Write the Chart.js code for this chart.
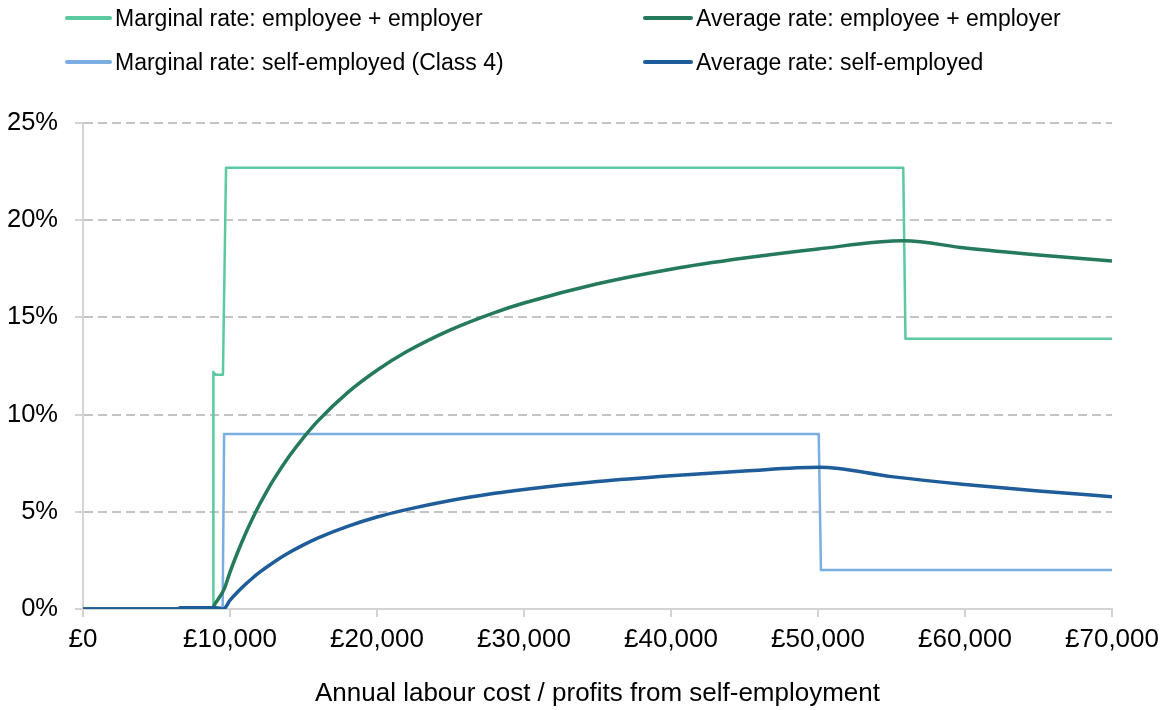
<!DOCTYPE html>
<html>
<head>
<meta charset="utf-8">
<script src="https://cdn.jsdelivr.net/npm/chart.js@4/dist/chart.umd.min.js"></script>
<style>
  body { margin: 0; background: #fff; }
  #wrap { position: relative; width: 1169px; height: 710px; }
  #legenda { position: absolute; left: 0; top: 0; width: 1169px; height: 90px; font-family: "Liberation Sans", Arial, sans-serif; font-size: 23px; color: #000; }
  .item { position: absolute; display: flex; align-items: center; height: 30px; white-space: nowrap; }
  .item span.linha { display: inline-block; height: 4px; border-radius: 2px; margin-right: 3px; }
</style>
</head>
<body>
<div id="wrap">
  <canvas id="grafico" width="1169" height="710"></canvas>
  <div id="legenda"></div>
</div>
<script>
// Dados (x = £ por ano, y = %)
const margEmpX = [0, 8850, 8870, 9000, 9520, 9730, 55800, 55950, 70000];
const margEmpY = [0, 0, 12.2, 12.05, 12.05, 22.7, 22.7, 13.9, 13.9];

const margSeX = [0, 6500, 6600, 9500, 9600, 50050, 50200, 70000];
const margSeY = [0, 0, 0.08, 0.08, 9.0, 9.0, 2.0, 2.0];

const avgEmpX = [0, 8780, 9000, 9300, 9600, 10000, 10500, 11000, 11500, 12000, 12500, 13000, 14000, 15000, 16000, 18000, 20000, 22000, 25000, 28000, 30000, 35000, 40000, 45000, 50000, 55850, 60000, 65000, 70000];
const avgEmpY = [0, 0, 0.29, 0.62, 1.02, 1.9, 2.88, 3.78, 4.6, 5.36, 6.05, 6.69, 7.83, 8.82, 9.69, 11.13, 12.28, 13.23, 14.36, 15.25, 15.74, 16.73, 17.48, 18.05, 18.52, 18.94, 18.57, 18.21, 17.9];

const avgSeX = [0, 6500, 6600, 9000, 9550, 10000, 10500, 11000, 11500, 12000, 13000, 14000, 15000, 16000, 18000, 20000, 22000, 25000, 28000, 30000, 35000, 40000, 45000, 50100, 55000, 60000, 65000, 70000];
const avgSeY = [0, 0, 0.06, 0.06, 0, 0.45, 0.86, 1.23, 1.57, 1.88, 2.42, 2.89, 3.3, 3.66, 4.25, 4.73, 5.11, 5.58, 5.95, 6.15, 6.56, 6.86, 7.1, 7.29, 6.81, 6.41, 6.07, 5.78];

const yTicks = [0, 5, 10, 15, 20, 25];
const xTicks = [0, 10000, 20000, 30000, 40000, 50000, 60000, 70000];

const titulos = [
    'Marginal rate: employee + employer',
    'Average rate: employee + employer',
    'Marginal rate: self-employed (Class 4)',
    'Average rate: self-employed'
];

// junta x e y em pontos
function pontos(xs, ys) {
    return xs.map((x, i) => ({ x: x, y: ys[i] }));
}

const fonte = '"Liberation Sans", Arial, sans-serif';
const cinzaEixo = '#d3d3d3';

const datasets = [
    { label: titulos[0], data: pontos(margEmpX, margEmpY), borderColor: '#5cc9a0', borderWidth: 2.5, tension: 0, order: 3 },
    { label: titulos[1], data: pontos(avgEmpX, avgEmpY), borderColor: '#247a5a', borderWidth: 3.5, cubicInterpolationMode: 'monotone', order: 1 },
    { label: titulos[2], data: pontos(margSeX, margSeY), borderColor: '#7aaee3', borderWidth: 2.5, tension: 0, order: 2 },
    { label: titulos[3], data: pontos(avgSeX, avgSeY), borderColor: '#1f5c9a', borderWidth: 3.5, cubicInterpolationMode: 'monotone', order: 0 }
];
datasets.forEach(d => { d.pointRadius = 0; d.fill = false; d.borderJoinStyle = 'round'; });

const chartOptions = {
    responsive: false,
    animation: false,
    devicePixelRatio: 1,
    layout: { padding: { top: 123, right: 57, bottom: 0, left: 0 } },
    plugins: {
        legend: { display: false },
        tooltip: { enabled: false }
    },
    scales: {
        x: {
            type: 'linear',
            min: 0,
            max: 70000,
            afterBuildTicks: (scale) => { scale.ticks = xTicks.map(v => ({ value: v })); },
            afterFit: (scale) => { scale.height = 101; },
            ticks: {
                color: '#000',
                font: { family: fonte, size: 26 },
                padding: 7,
                maxRotation: 0,
                callback: (v) => '£' + Number(v).toLocaleString('en-GB')
            },
            grid: { drawOnChartArea: false, color: cinzaEixo, tickLength: 8, lineWidth: 2 },
            border: { display: true, color: cinzaEixo, width: 2 },
            title: {
                display: true,
                text: 'Annual labour cost / profits from self-employment',
                color: '#000',
                font: { family: fonte, size: 26 },
                padding: { top: 0, bottom: 1 }
            }
        },
        y: {
            min: 0,
            max: 25,
            afterBuildTicks: (scale) => { scale.ticks = yTicks.map(v => ({ value: v })); },
            afterFit: (scale) => { scale.width = 83; },
            ticks: {
                color: '#000',
                font: { family: fonte, size: 25.5 },
                padding: 17,
                callback: (v) => v + '%'
            },
            grid: {
                color: (ctx) => ctx.tick && ctx.tick.value === 0 ? 'rgba(0,0,0,0)' : '#c4c4c4',
                tickColor: cinzaEixo,
                lineWidth: 2,
                tickBorderDash: [],
                tickLength: 8
            },
            // em v4 o tracejado das linhas de grade vem de border.dash
            border: { display: true, color: cinzaEixo, width: 2, dash: [9, 5] }
        }
    }
};

const ctx = document.getElementById('grafico').getContext('2d');
const grafico = new Chart(ctx, {
    type: 'line',
    data: { datasets: datasets },
    options: chartOptions
});

// --- legenda em HTML, em duas colunas ---
const posLegenda = [
    { left: 65, top: 3, w: 47 },
    { left: 643, top: 3, w: 50 },
    { left: 65, top: 47, w: 47 },
    { left: 643, top: 47, w: 50 }
];
const legenda = document.getElementById('legenda');
datasets.forEach((d, i) => {
    const p = posLegenda[i];
    const item = document.createElement('div');
    item.className = 'item';
    item.style.left = p.left + 'px';
    item.style.top = p.top + 'px';
    const linha = document.createElement('span');
    linha.className = 'linha';
    linha.style.width = p.w + 'px';
    linha.style.background = d.borderColor;
    const texto = document.createElement('span');
    texto.textContent = d.label;
    item.appendChild(linha);
    item.appendChild(texto);
    legenda.appendChild(item);
});
</script>
</body>
</html>
